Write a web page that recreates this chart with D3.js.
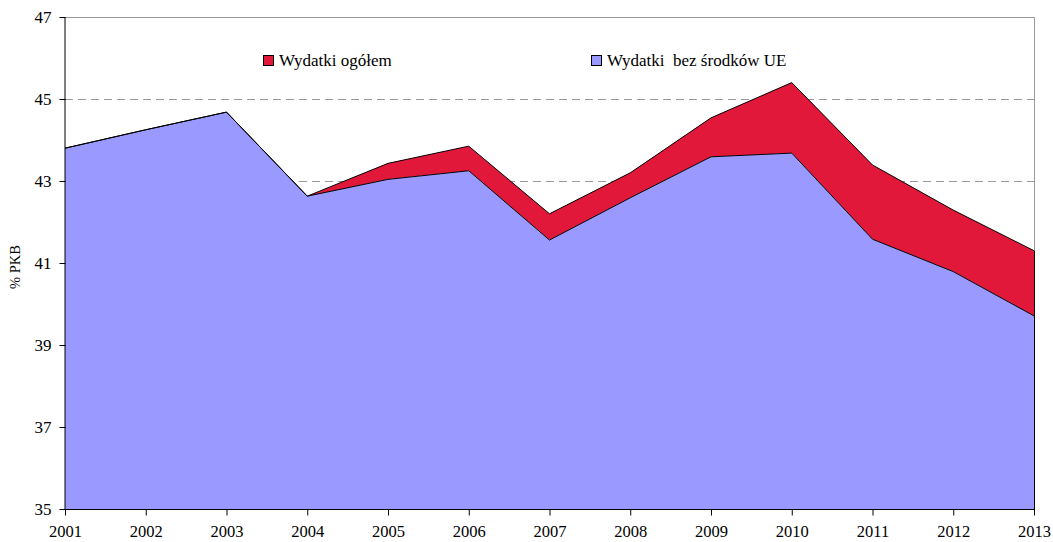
<!DOCTYPE html>
<html><head><meta charset="utf-8">
<script src="https://cdn.jsdelivr.net/npm/d3@7"></script>
<style>body{margin:0;background:#fff}svg{display:block}</style>
</head><body>
<svg id="c" width="1053" height="542"></svg>
<script>
const years = [2001,2002,2003,2004,2005,2006,2007,2008,2009,2010,2011,2012,2013];
const totalSpending = [43.80,44.25,44.68,42.63,43.43,43.85,42.20,43.20,44.54,45.40,43.39,42.29,41.30];
const spendingExclEU = [43.80,44.25,44.68,42.63,43.04,43.25,41.56,42.59,43.59,43.68,41.58,40.79,39.71];
const yTicks = [35,37,39,41,43,45,47];
const seriesNames = ["Wydatki ogółem","Wydatki  bez środków UE"];
const colors = ["#E2183A","#9999FF"];
const FONT = "'Liberation Serif'";

const svg = d3.select("#c");
const L=65,R=1034,T=17,B=509;
const x = d3.scaleLinear().domain([2001,2013]).range([L,R]);
const y = d3.scaleLinear().domain([35,47]).range([B,T]);

// gridlines
svg.append("g").selectAll("line").data(yTicks.filter(v=>v>35&&v<47)).join("line")
  .attr("x1",L).attr("x2",R).attr("y1",d=>y(d)+0.5).attr("y2",d=>y(d)+0.5)
  .attr("stroke","#999").attr("stroke-dasharray","8,5").attr("stroke-width",1);
// top and right border
svg.append("path").attr("d",`M${L},${y(47)+0.5}H${R+0.5}V${B}`).attr("fill","none").attr("stroke","#999");

const idx = d3.range(years.length);
const areaRed = d3.area().x(i=>x(years[i])).y0(i=>y(spendingExclEU[i])).y1(i=>y(totalSpending[i]));
const areaBlue = d3.area().x(i=>x(years[i])).y0(y(35)).y1(i=>y(spendingExclEU[i]));
svg.append("path").attr("d",areaRed(idx)).attr("fill",colors[0]);
svg.append("path").attr("d",areaBlue(idx)).attr("fill",colors[1]);
const line = arr => d3.line().x(i=>x(years[i])).y(i=>y(arr[i]))(idx);
svg.append("path").attr("d",line(totalSpending)).attr("fill","none").attr("stroke","#000").attr("stroke-width",1);
svg.append("path").attr("d",line(spendingExclEU)).attr("fill","none").attr("stroke","#000").attr("stroke-width",1);
svg.append("line").attr("x1",R+0.5).attr("x2",R+0.5).attr("y1",y(totalSpending[12])).attr("y2",B).attr("stroke","#000");

// axes
const ya = d3.axisLeft(y).tickValues(yTicks).tickSize(6).tickPadding(8).tickFormat(d3.format("d"));
const gy = svg.append("g").attr("transform",`translate(${L+0.5},0)`).call(ya);
gy.attr("font-family",null).attr("font-size",null);
gy.select(".domain").attr("d",`M-0.5,${T}V${B}`).attr("stroke","#000");
gy.selectAll("text").style("font-family",FONT).style("font-size","17px");
const xa = d3.axisBottom(x).tickValues(years).tickSize(6).tickPadding(10).tickFormat(d3.format("d"));
const gx = svg.append("g").attr("transform",`translate(0,${B+0.5})`).call(xa);
gx.attr("font-family",null).attr("font-size",null);
gx.select(".domain").attr("d",`M${L},0H${R+1}`).attr("stroke","#000");
gx.selectAll("text").style("font-family",FONT).style("font-size","16.5px");

// y label
svg.append("text").attr("transform",`translate(20,267) rotate(-90)`).attr("text-anchor","middle")
  .style("font-family",FONT).style("font-size","14.5px").text("% PKB");

// legend
const lg = [[263,seriesNames[0],colors[0]],[591,seriesNames[1],colors[1]]];
lg.forEach(([lx,name,c])=>{
  svg.append("rect").attr("x",lx+0.5).attr("y",55.5).attr("width",10).attr("height",10).attr("fill",c).attr("stroke","#000");
  svg.append("text").attr("x",lx+16).attr("y",66).style("font-family",FONT).style("font-size","17px")
    .style("white-space","pre").text(name);
});
</script>
</body></html>
